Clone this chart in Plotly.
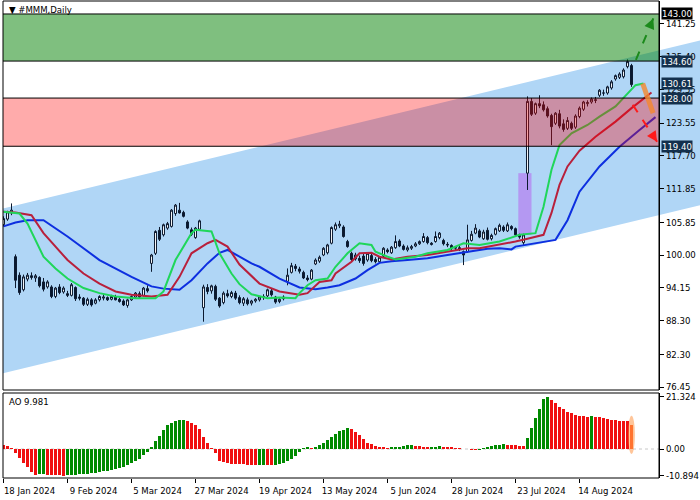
import plotly.graph_objects as go

# ---------------- data ----------------
date_label_bars = [0, 16, 32, 48, 64, 80, 96, 112, 128, 144]
date_labels = ["18 Jan 2024", "9 Feb 2024", "5 Mar 2024", "27 Mar 2024", "19 Apr 2024",
               "13 May 2024", "5 Jun 2024", "28 Jun 2024", "23 Jul 2024", "14 Aug 2024"]

opens = [105.4, 106.4, 107.5, 99.7, 96.4, 93.8, 95.7, 96.3, 95.9, 96.0,
         95.2, 94.3, 94.3, 92.6, 94.3, 93.4, 93.1, 92.8, 94.2, 92.5,
         92.3, 91.2, 92.0, 91.4, 92.0, 92.3, 92.4, 92.1, 92.5, 92.1,
         91.8, 91.0, 92.0, 92.5, 93.1, 92.8, 94.0, 98.5, 100.3, 104.4,
         103.6, 104.8, 105.1, 107.4, 108.0, 107.6, 105.9, 104.5, 103.1, 104.6,
         90.6, 94.2, 93.6, 94.4, 92.3, 91.5, 93.1, 92.6, 93.2, 92.4,
         91.4, 92.0, 91.4, 91.8, 92.0, 92.4, 92.7, 93.6, 92.5, 91.7,
         92.2, 95.3, 96.9, 98.0, 97.5, 96.9, 95.9, 95.7, 98.4, 98.9,
         100.0, 100.4, 102.1, 104.6, 105.2, 105.0, 102.4, 100.3, 99.3, 99.4,
         99.8, 99.1, 99.9, 99.2, 98.8, 99.8, 100.9, 100.4, 101.3, 102.5,
         101.6, 100.9, 101.2, 101.6, 102.0, 102.4, 103.1, 102.1, 102.4, 103.1,
         102.6, 101.9, 101.7, 101.2, 101.3, 100.6, 100.6, 102.6, 103.9, 104.3,
         102.9, 104.4, 102.9, 103.7, 104.3, 105.0, 104.3, 105.1, 104.7, 103.6,
         102.2, 114.6, 127.4, 125.3, 127.0, 126.8, 126.1, 124.9, 123.5, 125.2,
         123.4, 122.6, 123.5, 122.8, 124.7, 126.0, 127.0, 127.3, 127.7, 128.5,
         128.9, 128.9, 129.8, 131.4, 131.7, 131.8, 133.6, 133.8]
highs = [106.9, 107.9, 109.2, 100.1, 96.9, 96.5, 96.8, 96.9, 96.6, 96.2,
         95.9, 95.5, 94.6, 94.3, 94.8, 94.4, 93.6, 95.0, 94.4, 93.0,
         92.5, 92.4, 92.3, 92.3, 92.8, 93.0, 92.6, 92.9, 92.9, 92.4,
         92.1, 92.2, 92.8, 93.4, 93.5, 94.3, 94.6, 100.2, 104.4, 105.0,
         105.6, 105.9, 108.2, 109.1, 109.3, 107.9, 106.2, 104.9, 105.0, 106.3,
         94.7, 94.8, 94.7, 94.7, 92.5, 93.5, 93.8, 93.6, 93.6, 92.8,
         92.5, 92.4, 92.0, 92.3, 92.6, 93.0, 94.0, 94.0, 92.7, 92.3,
         92.8, 97.6, 98.6, 98.4, 97.9, 97.2, 96.4, 97.5, 99.4, 99.9,
         101.4, 102.0, 105.1, 105.8, 106.1, 105.3, 102.7, 100.6, 100.4, 99.9,
         100.2, 100.5, 100.2, 99.6, 99.8, 101.4, 101.2, 101.6, 103.5, 102.8,
         101.9, 101.7, 101.8, 102.3, 102.6, 103.9, 103.4, 102.3, 104.2, 104.1,
         102.9, 102.3, 101.9, 101.6, 101.6, 100.8, 105.4, 104.3, 105.5, 104.6,
         104.5, 104.9, 103.8, 104.9, 105.6, 105.3, 105.8, 105.3, 104.9, 103.8,
         103.8, 128.3, 128.0, 127.2, 128.5, 127.4, 126.5, 125.2, 125.5, 125.9,
         124.2, 124.6, 123.8, 125.1, 126.5, 127.5, 127.6, 128.1, 128.2, 129.6,
         129.5, 130.2, 131.2, 132.2, 132.6, 133.3, 134.9, 134.1]
lows = [105.1, 106.1, 107.1, 94.1, 92.9, 93.5, 95.3, 95.6, 95.2, 94.2,
        93.5, 94.0, 92.3, 92.3, 93.0, 93.1, 92.5, 92.6, 91.8, 91.9,
        90.9, 90.9, 90.8, 91.2, 91.7, 91.9, 91.8, 91.9, 91.9, 91.5,
        90.9, 90.6, 91.8, 92.2, 92.2, 92.6, 93.3, 97.0, 100.0, 102.5,
        103.3, 104.5, 104.9, 107.0, 107.4, 106.7, 104.6, 103.4, 102.9, 104.3,
        88.1, 93.0, 93.1, 91.8, 90.6, 91.2, 92.4, 92.3, 92.0, 91.2,
        90.9, 91.0, 91.0, 91.5, 91.7, 92.0, 92.5, 92.6, 91.3, 91.4,
        91.9, 94.6, 96.7, 97.1, 96.7, 95.7, 95.3, 95.5, 98.2, 98.6,
        99.8, 100.1, 101.9, 104.3, 104.8, 103.1, 101.3, 98.9, 99.0, 98.6,
        98.1, 98.8, 98.7, 98.5, 98.6, 99.6, 100.3, 100.2, 101.1, 101.4,
        100.8, 100.6, 100.9, 101.4, 101.8, 102.2, 101.9, 101.7, 102.2, 102.8,
        101.7, 101.4, 100.8, 100.8, 100.7, 98.2, 100.4, 102.4, 103.7, 103.0,
        102.7, 102.6, 102.6, 103.5, 104.1, 104.1, 104.1, 104.4, 103.4, 102.9,
        101.8, 111.6, 124.8, 125.0, 126.2, 125.6, 124.5, 119.6, 123.2, 122.6,
        122.0, 122.3, 122.3, 122.5, 124.4, 125.7, 126.5, 127.0, 127.1, 128.2,
        128.4, 128.6, 129.5, 131.1, 131.4, 131.5, 133.3, 130.0]
closes = [106.5, 107.7, 108.0, 95.5, 93.3, 96.1, 96.4, 96.0, 96.3, 94.5,
          93.9, 95.2, 92.6, 94.1, 93.3, 94.1, 92.8, 94.7, 92.2, 92.3,
          91.2, 92.1, 91.1, 92.0, 92.6, 92.5, 92.0, 92.6, 92.0, 91.7,
          91.1, 92.0, 92.6, 93.2, 92.5, 94.1, 93.6, 100.0, 104.2, 102.8,
          105.4, 105.6, 108.0, 108.9, 107.5, 106.9, 104.8, 103.7, 104.8, 106.1,
          94.3, 93.5, 94.5, 92.1, 90.9, 93.2, 92.7, 93.3, 92.3, 91.5,
          92.2, 91.3, 91.8, 92.1, 92.5, 92.6, 93.8, 92.9, 91.6, 92.1,
          92.5, 96.4, 98.1, 97.6, 97.1, 95.9, 95.6, 97.3, 99.1, 99.6,
          101.2, 101.8, 104.9, 105.4, 105.5, 103.3, 101.5, 99.2, 100.0, 99.0,
          98.5, 100.3, 99.0, 98.8, 99.6, 101.2, 100.6, 101.4, 102.4, 101.6,
          101.0, 101.3, 101.5, 102.0, 102.4, 103.3, 102.2, 101.9, 103.3, 103.9,
          102.0, 101.8, 101.2, 101.4, 101.0, 100.0, 102.7, 103.7, 104.8, 103.2,
          104.1, 102.8, 103.5, 104.7, 105.3, 104.4, 105.4, 104.7, 103.6, 103.2,
          103.6, 127.4, 125.1, 127.0, 126.6, 125.9, 124.8, 122.9, 125.3, 123.0,
          122.4, 124.0, 122.6, 124.8, 126.2, 127.3, 127.2, 127.8, 127.6, 129.4,
          128.9, 130.0, 130.9, 132.0, 132.3, 133.0, 134.5, 130.4]
bars = list(range(len(closes)))

# Alligator lines (bar, value)
lips_bars = [0, 4, 6, 8, 10, 13, 16, 20, 24, 28, 33, 38, 40, 43, 47, 48, 52, 54, 57, 59,
             62, 66, 69, 73, 74, 76, 78, 81, 83, 86, 89, 92, 93, 96, 98, 103, 106, 111, 115, 119,
             124, 129, 133, 135, 137, 139, 142, 146, 149, 153, 156, 158, 160]
lips_vals = [107.7, 107.4, 105.6, 102.7, 99.7, 97.6, 95.8, 94.1, 93.2, 92.6, 92.3, 92.3, 93.5, 99.1, 103.9, 104.5, 104.2, 100.3, 96.7, 94.8,
             93.0, 92.3, 92.4, 92.3, 93.2, 94.6, 95.5, 95.8, 97.9, 100.3, 102.1, 101.8, 100.6, 99.7, 99.2, 99.7, 100.3, 100.9, 102.1, 101.8,
             102.4, 103.6, 103.9, 108.6, 115.2, 119.6, 121.7, 123.2, 124.7, 126.5, 128.8, 130.3, 130.61]
teeth_bars = [0, 3, 7, 10, 16, 20, 24, 28, 32, 37, 41, 44, 47, 51, 53, 56, 59, 62, 64, 69,
              74, 76, 79, 82, 83, 87, 89, 92, 94, 97, 101, 106, 111, 116, 119, 122, 124, 128, 131, 135,
              137, 139, 141, 144, 148, 153, 157, 162]
teeth_vals = [107.7, 107.6, 107.1, 103.9, 99.1, 96.7, 94.9, 93.5, 92.9, 92.6, 92.9, 96.1, 100.3, 102.1, 102.7, 101.5, 98.3, 96.3, 94.9, 93.5,
              92.9, 93.2, 95.2, 95.5, 96.7, 98.8, 100.3, 100.4, 99.7, 99.2, 99.7, 100.0, 100.6, 101.2, 101.2, 101.6, 101.8, 102.4, 102.9, 103.6,
              107.5, 112.5, 115.8, 118.6, 121.1, 123.8, 126.2, 129.0]
jaw_bars = [0, 3, 6, 10, 16, 24, 32, 37, 40, 44, 47, 51, 54, 56, 59, 62, 64, 69, 74, 78,
            81, 84, 88, 91, 94, 97, 101, 106, 111, 116, 121, 124, 127, 128, 131, 134, 138, 141, 144, 149,
            154, 159, 163]
jaw_vals = [105.1, 105.8, 106.2, 106.2, 103.3, 99.1, 96.1, 94.4, 94.0, 93.8, 95.5, 98.5, 100.4, 100.9, 99.7, 98.5, 97.9, 95.8, 94.2, 93.9,
            94.2, 94.6, 95.8, 97.3, 98.6, 98.9, 99.1, 99.4, 100.0, 100.6, 101.1, 101.2, 101.0, 101.5, 101.9, 102.3, 102.7, 106.2, 111.3, 115.8,
            119.3, 122.3, 124.6]

# Awesome Oscillator, one value per bar
ao_values = [1.6, 1.3, 0.6, -1.5, -3.8, -5.6, -7.5, -9.3, -10.5, -10.4,
             -10.3, -10.5, -10.6, -10.7, -10.8, -10.894, -10.8, -10.6, -10.45, -10.3,
             -10.15, -10.0, -9.8, -9.6, -9.35, -9.1, -8.8, -8.5, -8.1, -7.7,
             -7.2, -6.6, -5.9, -5.0, -3.9, -2.6, -1.1, 0.9, 3.2, 5.5,
             7.8, 9.6, 10.7, 11.3, 11.7, 11.9, 11.4, 10.7, 9.8, 8.0,
             5.0, 2.3, 0.4, -1.8, -4.8, -5.5, -5.8, -6.0, -6.1, -6.2,
             -6.3, -6.4, -6.6, -6.7, -6.6, -6.5, -6.6, -6.7, -6.4, -6.0,
             -5.6, -5.0, -4.0, -2.8, -1.3, 0.5, 0.8, 0.5, 0.9, 1.5,
             2.4, 3.6, 4.9, 6.2, 7.2, 7.9, 8.4, 8.1, 7.1, 5.7,
             3.9, 2.6, 1.9, 1.4, 1.0, 0.8, 0.6, 0.7, 0.8, 0.9,
             1.2, 1.5, 1.7, 1.3, 1.1, 0.9, 0.7, 0.9, 1.0, 1.1,
             1.0, 0.9, 0.8, 0.6, 0.3, 0.1, -0.2, -0.4, -0.5, -0.3,
             0.4, 0.8, 1.1, 1.6, 1.8, 1.9, 1.7, 1.6, 1.5, 1.4,
             1.3, 4.3, 8.4, 12.5, 16.5, 20.6, 21.324, 20.0, 18.6, 17.3,
             16.2, 15.2, 14.5, 14.0, 13.6, 13.3, 13.2, 13.3, 13.2, 12.9,
             12.6, 12.3, 12.0, 11.8, 11.6, 11.5, 11.4, 9.981]
ao_current = 9.981

price_tick_vals = [76.45, 82.30, 88.30, 94.15, 100.00, 105.85, 111.85, 117.70, 123.55, 129.55, 135.40, 141.25]
ao_tick_vals = [-10.894, 0.0, 21.324]

green_zone = [134.60, 143.00]
red_zone = [119.40, 128.00]
level_lines = [143.00, 134.60, 128.00, 119.40]
level_labels = [143.00, 134.60, 130.61, 128.00, 119.40]

channel_start_bar = -0.125
channel_start_upper = 108.3
channel_slope = 0.172          # price per bar
channel_width = 29.4

gap_bars = [128.7, 132.0]
gap_prices = [103.6, 114.6]

up_arrow = [(158.1, 134.8), (162.45, 142.2)]
down_arrow = [(157.3, 126.8), (163.4, 120.2)]
orange_path = [(159.8, 130.6), (162.4, 125.3)]

# ---------------- geometry / styles ----------------
W, H = 700, 500
PLOT_L, AXIS_X = 3, 659
PRICE_TOP, PRICE_BOT = 1, 390
AO_TOP, AO_BOT = 393, 478
BAR0_X, PX_PER_BAR = 3.5, 4.0
PRICE_Y100, PX_PER_PRICE = 255.0, 5.605
AO_Y0, PX_PER_AO = 449.0, 2.45

def px(x):
    return x / W

def py(y):
    return 1 - y / H

x_range = [(PLOT_L - BAR0_X) / PX_PER_BAR, (W - BAR0_X) / PX_PER_BAR]
price_range = [100 + (PRICE_Y100 - PRICE_BOT) / PX_PER_PRICE, 100 + (PRICE_Y100 - PRICE_TOP) / PX_PER_PRICE]
ao_range = [(AO_Y0 - AO_BOT) / PX_PER_AO, (AO_Y0 - AO_TOP) / PX_PER_AO]

FONT = "DejaVu Sans Condensed, Liberation Sans, Arial, sans-serif"
FS = 9.5
CANDLE = "#0c1a30"
fig = go.Figure()

fig.add_trace(go.Candlestick(
    x=bars, open=opens, high=highs, low=lows, close=closes,
    increasing=dict(line=dict(color=CANDLE, width=1), fillcolor="#ffffff"),
    decreasing=dict(line=dict(color=CANDLE, width=1), fillcolor=CANDLE),
    whiskerwidth=0, xaxis="x", yaxis="y", showlegend=False, hoverinfo="skip"))

for xs, ys, col in [(jaw_bars, jaw_vals, "#0d2fe0"),
                    (teeth_bars, teeth_vals, "#b8203c"),
                    (lips_bars, lips_vals, "#1fd65a")]:
    fig.add_trace(go.Scatter(x=xs, y=ys, mode="lines", line=dict(color=col, width=2),
                             xaxis="x", yaxis="y", showlegend=False, hoverinfo="skip"))

ao_colors = []
for k, v in enumerate(ao_values):
    if k > 0 and v > ao_values[k - 1]:
        ao_colors.append("#008a00")
    else:
        ao_colors.append("#f01010")
ao_colors[-1] = "#ff4a14"
fig.add_trace(go.Bar(x=bars, y=ao_values, marker=dict(color=ao_colors, line=dict(width=0)),
                     width=0.72, xaxis="x", yaxis="y2", showlegend=False, hoverinfo="skip"))

shapes = []
# channel
cx0, cx1 = x_range[0] - 5, x_range[1] + 5
u0 = channel_start_upper + channel_slope * (cx0 - channel_start_bar)
u1 = channel_start_upper + channel_slope * (cx1 - channel_start_bar)
shapes.append(dict(type="path", xref="x", yref="y", layer="below",
                   path=f"M {cx0},{u0} L {cx1},{u1} L {cx1},{u1 - channel_width} L {cx0},{u0 - channel_width} Z",
                   fillcolor="#b0d6f6", line=dict(width=0)))
# gap box
shapes.append(dict(type="rect", xref="x", yref="y", layer="below",
                   x0=gap_bars[0], x1=gap_bars[1], y0=gap_prices[0], y1=gap_prices[1],
                   fillcolor="#b498f2", line=dict(width=0)))
# zones
shapes.append(dict(type="rect", xref="paper", yref="y", layer="above",
                   x0=px(PLOT_L), x1=px(AXIS_X), y0=green_zone[0], y1=green_zone[1],
                   fillcolor="rgba(0,128,0,0.5)", line=dict(width=0)))
shapes.append(dict(type="rect", xref="paper", yref="y", layer="above",
                   x0=px(PLOT_L), x1=px(AXIS_X), y0=red_zone[0], y1=red_zone[1],
                   fillcolor="rgba(255,0,0,0.33)", line=dict(width=0)))
for lv in level_lines:
    shapes.append(dict(type="line", xref="paper", yref="y", layer="above",
                       x0=px(PLOT_L), x1=px(AXIS_X), y0=lv, y1=lv,
                       line=dict(color="#000000", width=1)))
# projections
shapes.append(dict(type="line", xref="x", yref="y", layer="above",
                   x0=up_arrow[0][0], y0=up_arrow[0][1], x1=up_arrow[1][0], y1=up_arrow[1][1],
                   line=dict(color="#1b8a1b", width=2, dash="dash")))
shapes.append(dict(type="line", xref="x", yref="y", layer="above",
                   x0=down_arrow[0][0], y0=down_arrow[0][1], x1=down_arrow[1][0], y1=down_arrow[1][1],
                   line=dict(color="#ff1a1a", width=2, dash="dash")))
shapes.append(dict(type="line", xref="x", yref="y", layer="above",
                   x0=orange_path[0][0], y0=orange_path[0][1], x1=orange_path[1][0], y1=orange_path[1][1],
                   line=dict(color="rgba(245,135,45,0.8)", width=5)))
# AO zero dotted line and highlight of the last bar
shapes.append(dict(type="line", xref="paper", yref="y2", layer="below",
                   x0=px(PLOT_L), x1=px(AXIS_X), y0=0, y1=0,
                   line=dict(color="#c8c8c8", width=1, dash="dot")))
last = bars[-1]
shapes.append(dict(type="circle", xref="x", yref="y2", layer="above",
                   x0=last - 0.85, x1=last + 0.85, y0=-2.0, y1=ao_current + 3.6,
                   fillcolor="rgba(255,150,70,0.55)", line=dict(width=0)))
# frames
for top, bot in [(PRICE_TOP, PRICE_BOT), (AO_TOP, AO_BOT)]:
    shapes.append(dict(type="rect", xref="paper", yref="paper", layer="above",
                       x0=px(PLOT_L), x1=px(AXIS_X), y0=py(bot), y1=py(top),
                       line=dict(color="#000000", width=1), fillcolor="rgba(0,0,0,0)"))

annotations = []
annotations.append(dict(xref="paper", yref="paper", x=px(7), y=py(9), xanchor="left", yanchor="middle",
                        text="▼ #MMM,Daily", showarrow=False, font=dict(family=FONT, size=FS, color="#000000")))
annotations.append(dict(xref="paper", yref="paper", x=px(7), y=py(401), xanchor="left", yanchor="middle",
                        text=f"AO {ao_current:.3f}", showarrow=False, font=dict(family=FONT, size=FS, color="#000000")))
for lv in level_labels:
    bg = "#000000" if lv == max(level_labels) else "#13304d"
    annotations.append(dict(xref="paper", yref="y", x=px(AXIS_X + 2), y=lv, xanchor="left", yanchor="middle",
                            text=f"{lv:.2f}", showarrow=False, bgcolor=bg, borderpad=0,
                            font=dict(family=FONT, size=FS, color="#ffffff")))
for (p0, p1), col in [(up_arrow, "#1b8a1b"), (down_arrow, "#ff1a1a")]:
    dx, dy = p1[0] - p0[0], p1[1] - p0[1]
    annotations.append(dict(xref="x", yref="y", axref="x", ayref="y",
                            x=p1[0], y=p1[1], ax=p1[0] - 0.15 * dx, ay=p1[1] - 0.15 * dy,
                            showarrow=True, arrowhead=2, arrowsize=1.3, arrowwidth=1.6,
                            arrowcolor=col, standoff=0, text=""))

axis_common = dict(showgrid=False, zeroline=False, showline=True, linecolor="#000000", linewidth=1,
                   ticks="outside", ticklen=4, tickcolor="#000000", automargin=False,
                   tickfont=dict(family=FONT, size=FS, color="#000000"))

fig.update_layout(
    width=W, height=H, margin=dict(l=0, r=0, t=0, b=0, pad=0, autoexpand=False),
    paper_bgcolor="#ffffff", plot_bgcolor="#ffffff", showlegend=False,
    bargap=0,
    xaxis=dict(domain=[px(PLOT_L), 1.0], range=x_range, anchor="y2", automargin=False,
               showgrid=False, zeroline=False, showline=False,
               tickmode="array", tickvals=date_label_bars, ticktext=date_labels,
               ticks="outside", ticklen=4, tickcolor="#000000", ticklabelshift=26,
               tickfont=dict(family=FONT, size=FS, color="#000000"),
               rangeslider=dict(visible=False)),
    yaxis=dict(domain=[py(PRICE_BOT), py(PRICE_TOP)], range=price_range, anchor="free",
               position=px(AXIS_X), side="right", tickmode="array",
               tickvals=price_tick_vals, ticktext=[f"{v:.2f}" for v in price_tick_vals], **axis_common),
    yaxis2=dict(domain=[py(AO_BOT), py(AO_TOP)], range=ao_range, anchor="free",
                position=px(AXIS_X), side="right", tickmode="array",
                tickvals=ao_tick_vals, ticktext=["-10.894", "0.00", "21.324"], **axis_common),
    shapes=shapes, annotations=annotations,
)

fig.write_html("out.html", config={"displayModeBar": False, "staticPlot": True},
               post_script="document.body.style.margin='0px';document.body.style.overflow='hidden';")
